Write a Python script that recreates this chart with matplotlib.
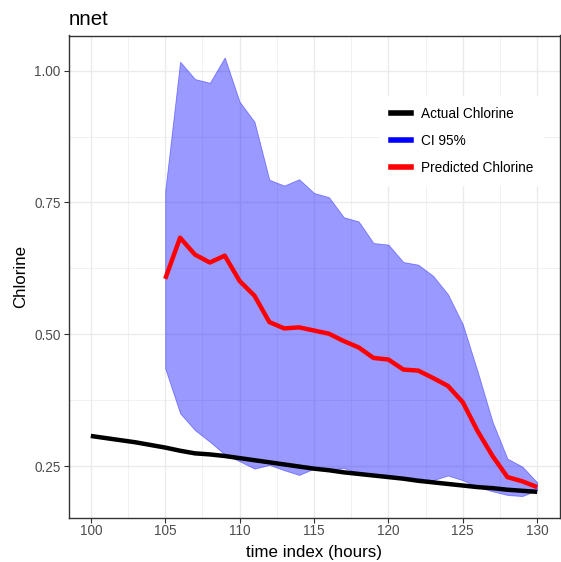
import matplotlib
matplotlib.use("Agg")
import matplotlib.pyplot as plt
from matplotlib.lines import Line2D
from matplotlib.ticker import MultipleLocator

plt.rcParams["font.family"] = ["Liberation Sans", "DejaVu Sans"]

# time index (hours)
hours = list(range(100, 131))
pred_hours = list(range(105, 131))

actual = [0.307, 0.303, 0.299, 0.295, 0.290, 0.285, 0.279, 0.274, 0.272, 0.269,
          0.265, 0.261, 0.257, 0.253, 0.249, 0.245, 0.242, 0.238, 0.235, 0.232,
          0.229, 0.226, 0.222, 0.219, 0.216, 0.213, 0.210, 0.208, 0.205, 0.203,
          0.201]

predicted = [0.605, 0.683, 0.651, 0.636, 0.649, 0.601, 0.573, 0.523, 0.511, 0.513,
             0.507, 0.501, 0.487, 0.475, 0.455, 0.452, 0.433, 0.431, 0.417, 0.402,
             0.371, 0.316, 0.269, 0.229, 0.221, 0.210]

ci_upper = [0.772, 1.017, 0.984, 0.977, 1.025, 0.941, 0.903, 0.793, 0.782, 0.794,
            0.768, 0.760, 0.722, 0.714, 0.673, 0.670, 0.637, 0.632, 0.611, 0.576,
            0.519, 0.429, 0.334, 0.264, 0.249, 0.219]

ci_lower = [0.435, 0.350, 0.318, 0.296, 0.272, 0.259, 0.245, 0.252, 0.242, 0.233,
            0.245, 0.243, 0.246, 0.237, 0.235, 0.233, 0.229, 0.227, 0.223, 0.232,
            0.223, 0.210, 0.202, 0.195, 0.193, 0.204]

fig = plt.figure(figsize=(5.61, 5.62), dpi=100)
ax = fig.add_axes([68.5 / 561, 44 / 562, 491 / 561, 482.5 / 562])

# CI band, then lines on top
ax.fill_between(pred_hours, ci_lower, ci_upper, color="blue", alpha=0.4,
                linewidth=0.6, edgecolor="blue", zorder=2)
ax.plot(hours, actual, color="black", lw=3.2, solid_capstyle="butt", zorder=3)
ax.plot(pred_hours, predicted, color="red", lw=3.2, solid_capstyle="butt", zorder=4)

# ggplot-style expansion
ymin, ymax = min(ci_lower + actual), max(ci_upper + actual)
pad = (ymax - ymin) * 0.05
ax.set_ylim(ymin - pad, ymax + pad)
ax.set_xlim(98.5, 131.5)

ax.xaxis.set_major_locator(MultipleLocator(5))
ax.xaxis.set_minor_locator(MultipleLocator(2.5))
ax.yaxis.set_major_locator(MultipleLocator(0.25))
ax.yaxis.set_minor_locator(MultipleLocator(0.125))
ax.yaxis.set_major_formatter(plt.FuncFormatter(lambda v, p: f"{v:.2f}"))

ax.grid(which="major", color="#ebebeb", lw=1.0, zorder=0)
ax.grid(which="minor", color="#ebebeb", lw=0.5, zorder=0)
ax.set_axisbelow(True)

for s in ax.spines.values():
    s.set_color("#333333")
    s.set_linewidth(1.0)
ax.tick_params(which="major", length=3.6, width=0.8, color="#333333",
               labelcolor="#4d4d4d", labelsize=9.8)
ax.tick_params(axis="x", pad=0.6)
ax.tick_params(axis="y", pad=2)
ax.tick_params(which="minor", length=0)

ax.set_xlabel("time index (hours)", fontsize=12.2, color="black")
ax.set_ylabel("Chlorine", fontsize=12.2, color="black")
ax.xaxis.set_label_coords(0.5, -0.056)
ax.yaxis.set_label_coords(-0.083, 0.5)

fig.text(68.5 / 561, 1 - 25 / 562, "nnet", fontsize=14.8, ha="left", va="baseline")

handles = [
    Line2D([], [], color="black", lw=4),
    Line2D([], [], color="blue", lw=4),
    Line2D([], [], color="red", lw=4),
]
labels = ["Actual Chlorine", "CI 95%", "Predicted Chlorine"]
leg = fig.legend(handles, labels, loc="center", bbox_to_anchor=(462 / 561, 1 - 141 / 562),
                 fontsize=9.85, handlelength=1.46, handletextpad=0.73,
                 labelspacing=0.97, frameon=True, fancybox=False,
                 borderpad=0.8)
leg.get_frame().set_facecolor("white")
leg.get_frame().set_edgecolor("none")
leg.get_frame().set_alpha(1)

fig.savefig("out.png", dpi=100)
